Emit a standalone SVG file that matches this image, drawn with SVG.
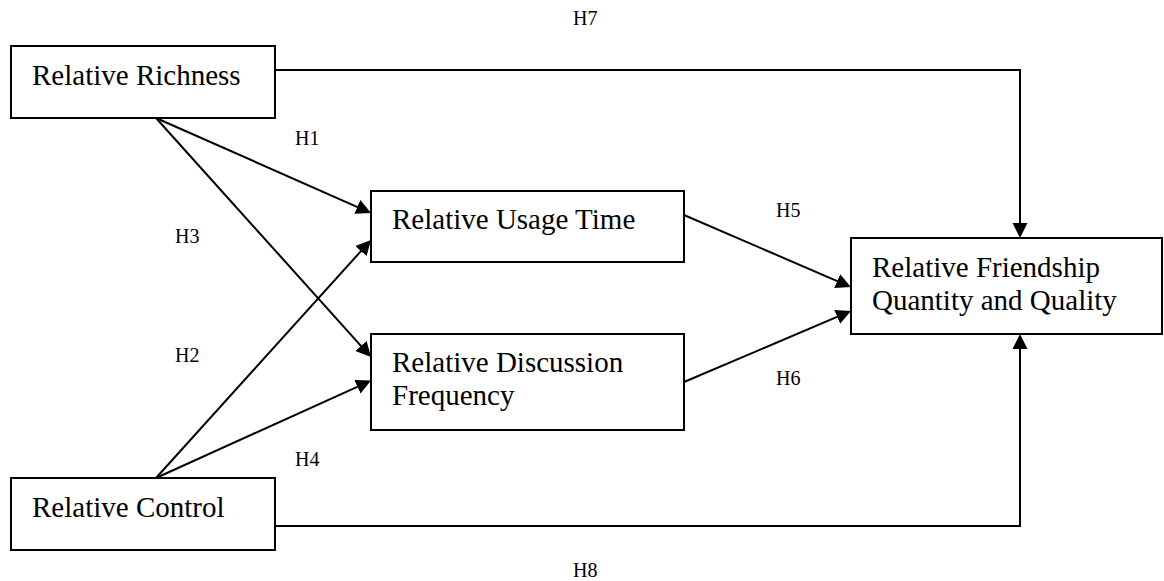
<svg xmlns="http://www.w3.org/2000/svg" width="1164" height="581" viewBox="0 0 1164 581">
<style>
.box{fill:#fff;stroke:#000;stroke-width:2}
.lbl{font-family:"Liberation Serif","Times New Roman",serif;font-size:29px;fill:#000}
.h{font-family:"Liberation Serif","Times New Roman",serif;font-size:20px;fill:#000}
.c{fill:none;stroke:#000;stroke-width:2;marker-end:url(#ah)}
</style>
<defs>
<marker id="ah" markerUnits="userSpaceOnUse" markerWidth="16" markerHeight="16" refX="12" refY="7.5" orient="auto">
<path d="M0,0 L15,7.5 L0,15 z" fill="#000"/>
</marker>
</defs>
<rect width="1164" height="581" fill="#fff"/>
<g id="connectors">
<polyline class="c" points="275,70 1020,70 1020,235"/>
<polyline class="c" points="275,526 1020,526 1020,337"/>
<line class="c" x1="156" y1="118" x2="368.3" y2="211.8"/>
<line class="c" x1="156" y1="118" x2="369" y2="354.8"/>
<line class="c" x1="156" y1="478" x2="369" y2="242.2"/>
<line class="c" x1="156" y1="478" x2="368.3" y2="381.8"/>
<line class="c" x1="684" y1="215" x2="848.2" y2="285.8"/>
<line class="c" x1="684" y1="382" x2="848.2" y2="312.2"/>
</g>
<g id="labels">
<text class="h" x="295" y="145">H1</text>
<text class="h" x="175" y="243">H3</text>
<text class="h" x="175" y="362">H2</text>
<text class="h" x="295" y="466">H4</text>
<text class="h" x="776" y="217">H5</text>
<text class="h" x="776" y="385">H6</text>
<text class="h" x="573" y="25">H7</text>
<text class="h" x="573" y="577">H8</text>
</g>
<g id="richness">
<rect class="box" x="11" y="46" width="264" height="72"/>
<text class="lbl" x="32" y="85">Relative Richness</text>
</g>
<g id="control">
<rect class="box" x="11" y="478" width="264" height="72"/>
<text class="lbl" x="32" y="517">Relative Control</text>
</g>
<g id="usage">
<rect class="box" x="371" y="191" width="313" height="71"/>
<text class="lbl" x="392" y="229">Relative Usage Time</text>
</g>
<g id="discussion">
<rect class="box" x="371" y="334" width="313" height="96"/>
<text class="lbl" x="392" y="372">Relative Discussion</text>
<text class="lbl" x="392" y="405">Frequency</text>
</g>
<g id="friendship">
<rect class="box" x="851" y="238" width="311" height="96"/>
<text class="lbl" x="872" y="277">Relative Friendship</text>
<text class="lbl" x="872" y="310">Quantity and Quality</text>
</g>
</svg>
